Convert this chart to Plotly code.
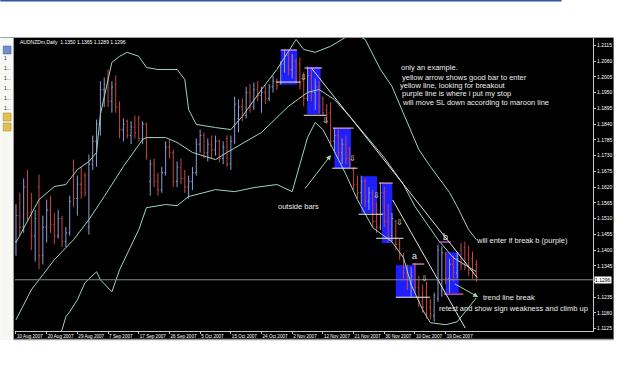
import plotly.graph_objects as go

W, H = 625, 391
L, R, T, B = 15, 21, 38, 60
PW, PH = W - L - R, H - T - B

def PX(x):
    return (x - L) / PW

def PY(y):
    return (H - B - y) / PH

# ---------------- data ----------------
date_idx = [0, 8, 16, 24, 32, 40, 48, 56, 64, 72, 80, 88, 96, 104, 112]
date_labels = ["10 Aug 2007", "20 Aug 2007", "29 Aug 2007", "7 Sep 2007", "17 Sep 2007",
               "26 Sep 2007", "5 Oct 2007", "15 Oct 2007", "24 Oct 2007", "2 Nov 2007",
               "12 Nov 2007", "21 Nov 2007", "30 Nov 2007", "10 Dec 2007", "19 Dec 2007"]
price_ticks = [1.2115, 1.2060, 1.2005, 1.1950, 1.1895, 1.1840, 1.1785, 1.1730, 1.1675, 1.1620,
               1.1565, 1.1510, 1.1455, 1.1400, 1.1345, 1.1290, 1.1235, 1.1180, 1.1125]
last_price = 1.1296

opens = [1.1430, 1.1520, 1.1480, 1.1620, 1.1530, 1.1450, 1.1620, 1.1380, 1.1480, 1.1540,
         1.1490, 1.1450, 1.1510, 1.1430, 1.1460, 1.1680, 1.1580, 1.1630, 1.1660, 1.1480,
         1.1700, 1.1780, 1.1840, 1.1960, 1.2000, 1.1920, 1.1980, 1.1900, 1.1820, 1.1850,
         1.1800, 1.1830, 1.1860, 1.1790, 1.1840, 1.1640, 1.1700, 1.1640, 1.1610, 1.1670,
         1.1760, 1.1740, 1.1640, 1.1690, 1.1650, 1.1620, 1.1640, 1.1670, 1.1770, 1.1800,
         1.1740, 1.1770, 1.1750, 1.1780, 1.1720, 1.1790, 1.1700, 1.1780, 1.1860, 1.1900,
         1.1870, 1.1950, 1.1900, 1.1960, 1.1940, 1.1950, 1.1930, 1.1970, 1.1990, 1.1980,
         1.2050, 1.2080, 1.2030, 1.2060, 1.2050, 1.1990, 1.1930, 1.2010, 1.1950, 1.1970,
         1.1930, 1.1890, 1.1880, 1.1780, 1.1800, 1.1740, 1.1770, 1.1720, 1.1680, 1.1630,
         1.1600, 1.1640, 1.1570, 1.1600, 1.1500, 1.1480, 1.1600, 1.1500, 1.1450, 1.1500,
         1.1420, 1.1380, 1.1320, 1.1280, 1.1340, 1.1270, 1.1220, 1.1250, 1.1200, 1.1170,
         1.1230, 1.1260, 1.1390, 1.1300, 1.1350, 1.1320, 1.1400, 1.1410, 1.1380, 1.1370,
         1.1350]
highs = [1.1560, 1.1600, 1.1650, 1.1680, 1.1600, 1.1540, 1.1664, 1.1520, 1.1576, 1.1590,
         1.1530, 1.1540, 1.1520, 1.1480, 1.1590, 1.1716, 1.1660, 1.1690, 1.1671, 1.1734,
         1.1800, 1.1856, 1.1990, 1.2003, 1.2031, 1.1990, 1.2010, 1.1920, 1.1860, 1.1856,
         1.1850, 1.1870, 1.1870, 1.1850, 1.1845, 1.1716, 1.1720, 1.1670, 1.1690, 1.1780,
         1.1786, 1.1750, 1.1710, 1.1720, 1.1680, 1.1660, 1.1690, 1.1790, 1.1821, 1.1810,
         1.1790, 1.1800, 1.1800, 1.1786, 1.1780, 1.1800, 1.1800, 1.1936, 1.1926, 1.1930,
         1.1970, 1.1980, 1.1985, 1.1990, 1.1971, 1.1975, 1.1980, 1.2010, 1.2000, 1.2060,
         1.2101, 1.2095, 1.2085, 1.2070, 1.2073, 1.2021, 1.2042, 1.2030, 1.2000, 1.1990,
         1.1936, 1.1910, 1.1916, 1.1828, 1.1820, 1.1790, 1.1800, 1.1760, 1.1690, 1.1660,
         1.1660, 1.1650, 1.1620, 1.1610, 1.1566, 1.1636, 1.1620, 1.1560, 1.1530, 1.1506,
         1.1440, 1.1390, 1.1349, 1.1340, 1.1355, 1.1310, 1.1280, 1.1290, 1.1230, 1.1251,
         1.1419, 1.1412, 1.1394, 1.1370, 1.1380, 1.1390, 1.1425, 1.1430, 1.1415, 1.1395,
         1.1365]
lows = [1.1380, 1.1450, 1.1460, 1.1500, 1.1400, 1.1360, 1.1333, 1.1350, 1.1426, 1.1460,
        1.1420, 1.1440, 1.1410, 1.1410, 1.1450, 1.1550, 1.1520, 1.1580, 1.1587, 1.1454,
        1.1680, 1.1691, 1.1800, 1.1900, 1.1900, 1.1880, 1.1880, 1.1790, 1.1780, 1.1790,
        1.1770, 1.1790, 1.1780, 1.1770, 1.1716, 1.1590, 1.1620, 1.1590, 1.1600, 1.1660,
        1.1720, 1.1620, 1.1620, 1.1630, 1.1600, 1.1580, 1.1610, 1.1660, 1.1740, 1.1720,
        1.1710, 1.1720, 1.1730, 1.1706, 1.1700, 1.1690, 1.1680, 1.1770, 1.1811, 1.1850,
        1.1860, 1.1880, 1.1890, 1.1920, 1.1880, 1.1910, 1.1920, 1.1950, 1.1960, 1.1979,
        1.2020, 1.2010, 1.2000, 1.1985, 1.1961, 1.1902, 1.1920, 1.1920, 1.1890, 1.1877,
        1.1870, 1.1840, 1.1762, 1.1740, 1.1720, 1.1700, 1.1700, 1.1688, 1.1611, 1.1580,
        1.1560, 1.1550, 1.1540, 1.1480, 1.1460, 1.1470, 1.1480, 1.1426, 1.1430, 1.1400,
        1.1366, 1.1300, 1.1260, 1.1237, 1.1250, 1.1200, 1.1180, 1.1160, 1.1157, 1.1150,
        1.1219, 1.1237, 1.1280, 1.1251, 1.1290, 1.1300, 1.1330, 1.1330, 1.1310, 1.1300,
        1.1289]
closes = [1.1520, 1.1480, 1.1620, 1.1530, 1.1450, 1.1510, 1.1380, 1.1480, 1.1540, 1.1490,
          1.1450, 1.1510, 1.1430, 1.1460, 1.1570, 1.1580, 1.1630, 1.1600, 1.1600, 1.1700,
          1.1780, 1.1840, 1.1960, 1.1980, 1.1920, 1.1970, 1.1900, 1.1820, 1.1840, 1.1800,
          1.1830, 1.1810, 1.1790, 1.1840, 1.1730, 1.1700, 1.1640, 1.1610, 1.1670, 1.1760,
          1.1740, 1.1640, 1.1690, 1.1650, 1.1620, 1.1640, 1.1670, 1.1770, 1.1800, 1.1740,
          1.1770, 1.1750, 1.1780, 1.1720, 1.1760, 1.1700, 1.1780, 1.1910, 1.1900, 1.1870,
          1.1950, 1.1900, 1.1960, 1.1940, 1.1950, 1.1930, 1.1970, 1.1990, 1.1975, 1.2050,
          1.2080, 1.2030, 1.2060, 1.2000, 1.1980, 1.1930, 1.2010, 1.1950, 1.1970, 1.1900,
          1.1880, 1.1850, 1.1780, 1.1800, 1.1740, 1.1770, 1.1720, 1.1700, 1.1630, 1.1600,
          1.1640, 1.1570, 1.1600, 1.1500, 1.1480, 1.1600, 1.1500, 1.1450, 1.1510, 1.1420,
          1.1380, 1.1320, 1.1280, 1.1310, 1.1270, 1.1220, 1.1200, 1.1180, 1.1170, 1.1240,
          1.1400, 1.1390, 1.1300, 1.1350, 1.1320, 1.1370, 1.1350, 1.1340, 1.1330, 1.1320,
          1.1296]
bar_idx = list(range(len(opens)))

upper_idx = [0, 6, 10, 13, 16, 19, 21, 22, 25, 27, 29, 32, 34, 37, 42, 44, 45, 47, 52, 56,
             59, 64, 68, 73, 75, 78, 82, 86, 88, 91, 95, 98, 105, 108, 113, 115, 118, 120]
upper_val = [1.1426, 1.1576, 1.1622, 1.1629, 1.1681, 1.1709, 1.1741, 1.1874, 1.2056, 1.2077,
             1.2091, 1.2077, 1.2038, 1.2031, 1.2031, 1.1996, 1.1891, 1.1839, 1.1828, 1.1821,
             1.1867, 1.1961, 1.2031, 1.2136, 1.2101, 1.2091, 1.2112, 1.2143, 1.2160, 1.2136,
             1.2031, 1.1972, 1.1751, 1.1692, 1.1601, 1.1552, 1.1471, 1.1436]
middle_idx = [0, 4, 6, 10, 15, 19, 23, 28, 33, 34, 39, 42, 46, 52, 55, 64, 71, 76, 79, 83,
              87, 92, 96, 101, 104, 110, 114, 120]
middle_val = [1.1156, 1.1261, 1.1296, 1.1366, 1.1436, 1.1506, 1.1587, 1.1692, 1.1786, 1.1793,
              1.1793, 1.1776, 1.1741, 1.1716, 1.1741, 1.1811, 1.1902, 1.1951, 1.1961, 1.1926,
              1.1867, 1.1786, 1.1723, 1.1629, 1.1552, 1.1436, 1.1373, 1.1324]
lower_idx = [8, 12, 13, 14, 16, 18, 21, 22, 25, 27, 32, 34, 39, 42, 45, 52, 57, 62, 68, 72,
             74, 76, 78, 80, 83, 86, 89, 93, 98, 101, 103, 106, 108, 112, 115, 118, 120]
lower_val = [1.1050, 1.1121, 1.1167, 1.1184, 1.1226, 1.1286, 1.1324, 1.1296, 1.1254, 1.1331,
             1.1471, 1.1548, 1.1559, 1.1555, 1.1587, 1.1611, 1.1604, 1.1618, 1.1629, 1.1604,
             1.1699, 1.1793, 1.1846, 1.1821, 1.1744, 1.1664, 1.1576, 1.1478, 1.1429, 1.1373,
             1.1279, 1.1191, 1.1146, 1.1139, 1.1149, 1.1198, 1.1233]

# drawn objects (bar index / price)
box_x0 = [69.0, 75.9, 83.0, 90.0, 95.4, 99.0, 112.0]
box_x1 = [73.3, 79.4, 87.3, 94.1, 98.1, 104.2, 115.4]
box_top = [1.2100, 1.2040, 1.1826, 1.1658, 1.1634, 1.1347, 1.1392]
box_bot = [1.1978, 1.1875, 1.1686, 1.1529, 1.1424, 1.1235, 1.1249]

white_x0 = [67.8, 75.0, 82.4, 89.3, 93.9, 99.0]
white_x1 = [74.2, 80.9, 89.0, 95.7, 101.0, 107.9]
white_p = [1.1987, 1.1871, 1.1686, 1.1525, 1.1441, 1.1235]

pink_x0 = [69.0, 75.2, 82.6, 94.6, 103.3]
pink_x1 = [73.2, 79.8, 88.0, 98.2, 106.4]
pink_p = [1.2099, 1.2036, 1.1826, 1.1634, 1.1351]

purple_x0 = [110.2, 111.5]
purple_x1 = [113.3, 116.6]
purple_p = [1.1428, 1.1246]

trend_x0 = [77.0, 98.2]
trend_x1 = [120.2, 117.1]
trend_p0 = [1.2036, 1.1575]
trend_p1 = [1.1304, 1.1127]

sig_idx = [74.9, 80.8, 87.7, 93.9, 100.0, 106.6]
sig_val = [1.2004, 1.1854, 1.1721, 1.1591, 1.1497, 1.1301]

notes = ["only an example.",
         "yellow arrow shows good bar to enter",
         "yellow line, looking for breakout",
         "purple line is where i put my stop",
         "will move SL down according to maroon line"]

# ---------------- styles ----------------
UP = "#8d9ed6"
DN = "#c8463e"
BAND = "#9ed6b8"
TXT = "#ececec"
FONT = "Liberation Sans, Arial, sans-serif"

fig = go.Figure()

fig.add_trace(go.Ohlc(
    x=bar_idx, open=opens, high=highs, low=lows, close=closes,
    increasing=dict(line=dict(color=UP, width=1)),
    decreasing=dict(line=dict(color=DN, width=1)),
    tickwidth=0.3, hoverinfo="skip", showlegend=False))

for xi, yv in [(upper_idx, upper_val), (middle_idx, middle_val), (lower_idx, lower_val)]:
    fig.add_trace(go.Scatter(x=xi, y=yv, mode="lines", line=dict(color=BAND, width=1),
                             hoverinfo="skip", showlegend=False))

shapes = []
# window chrome
shapes.append(dict(type="rect", xref="paper", yref="paper", x0=PX(14), x1=PX(625),
                   y0=PY(339), y1=PY(38), fillcolor="black", line_width=0, layer="below"))
shapes.append(dict(type="rect", xref="paper", yref="paper", x0=PX(0), x1=PX(572),
                   y0=PY(1.5), y1=PY(0), fillcolor="#2a5a9a", line_width=0, layer="below"))
shapes.append(dict(type="line", xref="paper", yref="paper", x0=PX(0), x1=PX(625),
                   y0=PY(37.5), y1=PY(37.5), line=dict(color="#a0a0a0", width=1)))
shapes.append(dict(type="line", xref="paper", yref="paper", x0=PX(14), x1=PX(625),
                   y0=PY(339.5), y1=PY(339.5), line=dict(color="#9a9a9a", width=1.5)))
shapes.append(dict(type="rect", xref="paper", yref="paper", x0=PX(0), x1=PX(13),
                   y0=PY(340), y1=PY(38), fillcolor="#f7f7f4", line_width=0, layer="below"))
shapes.append(dict(type="line", xref="paper", yref="paper", x0=PX(13.5), x1=PX(13.5),
                   y0=PY(340), y1=PY(38), line=dict(color="#9a9a9a", width=1)))
shapes.append(dict(type="rect", xref="paper", yref="paper", x0=PX(3), x1=PX(11),
                   y0=PY(54), y1=PY(46), fillcolor="#6f8fc8", line=dict(color="#3a5a9a", width=0.5)))
for yy in (113, 123):
    shapes.append(dict(type="rect", xref="paper", yref="paper", x0=PX(3), x1=PX(11),
                       y0=PY(yy + 8), y1=PY(yy), fillcolor="#e0c050",
                       line=dict(color="#a08020", width=0.5)))

# boxes
for a, b, t, bt in zip(box_x0, box_x1, box_top, box_bot):
    shapes.append(dict(type="rect", xref="x", yref="y", x0=a, x1=b, y0=bt, y1=t,
                       fillcolor="#1e1eff", line_width=0, layer="below"))
# horizontal level lines
for a, b, p in zip(white_x0, white_x1, white_p):
    shapes.append(dict(type="line", xref="x", yref="y", x0=a, x1=b, y0=p, y1=p,
                       line=dict(color="#f0f0f0", width=1)))
for a, b, p in zip(pink_x0, pink_x1, pink_p):
    shapes.append(dict(type="line", xref="x", yref="y", x0=a, x1=b, y0=p, y1=p,
                       line=dict(color="#e8a0d8", width=1.2)))
for a, b, p in zip(purple_x0, purple_x1, purple_p):
    shapes.append(dict(type="line", xref="x", yref="y", x0=a, x1=b, y0=p, y1=p,
                       line=dict(color="#c050c8", width=1.5)))
# trend lines
for a, b, p0, p1 in zip(trend_x0, trend_x1, trend_p0, trend_p1):
    shapes.append(dict(type="line", xref="x", yref="y", x0=a, x1=b, y0=p0, y1=p1,
                       line=dict(color="#e4e4e4", width=1)))
# current price line
shapes.append(dict(type="line", xref="paper", yref="y", x0=0, x1=1, y0=last_price, y1=last_price,
                   line=dict(color="#8a8a8a", width=1)))

ann = []
ann.append(dict(xref="paper", yref="paper", x=PX(18), y=PY(42), text="AUDNZDm,Daily  1.1350 1.1365 1.1289 1.1296",
                showarrow=False, xanchor="left", yanchor="middle", font=dict(size=5, color="white", family=FONT)))
for k, s in enumerate(["", "1", "1...", "1...", "1...", "1...", "1..."]):
    if s:
        ann.append(dict(xref="paper", yref="paper", x=PX(2), y=PY(48 + 10 * k), text=s, showarrow=False,
                        xanchor="left", yanchor="middle", font=dict(size=5, color="#333333", family=FONT)))
note_x = [406, 407, 405, 407, 407]
note_y = [68, 77, 85.5, 94, 103]
for s, xx, yy in zip(notes, note_x, note_y):
    ann.append(dict(xref="paper", yref="paper", x=PX(xx), y=PY(yy), text=s, showarrow=False,
                    xanchor="left", yanchor="middle", font=dict(size=7.5, color=TXT, family=FONT)))
for s, xx, yy in [("outside bars", 281, 206), ("will enter if break b (purple)", 483, 240),
                  ("trend line break", 490, 297), ("retest and show sign weakness and climb up", 445, 308)]:
    ann.append(dict(xref="paper", yref="paper", x=PX(xx), y=PY(yy), text=s, showarrow=False,
                    xanchor="left", yanchor="middle", font=dict(size=7.5, color=TXT, family=FONT)))
for s, xi, p in [("a", 103.8, 1.1378), ("b", 112.0, 1.1444)]:
    ann.append(dict(xref="x", yref="y", x=xi, y=p, text=s, showarrow=False,
                    xanchor="center", yanchor="middle", font=dict(size=9, color=TXT, family=FONT)))
for xi, p in zip(sig_idx, sig_val):
    ann.append(dict(xref="x", yref="y", x=xi, y=p, text="⇩", showarrow=False,
                    xanchor="center", yanchor="middle", font=dict(size=8, color="#f6efc0", family="DejaVu Sans")))
# green hand-drawn arrows
ann.append(dict(xref="paper", yref="paper", x=PX(337), y=PY(155), ax=-27, ay=35, text="",
                showarrow=True, arrowhead=2, arrowsize=1, arrowwidth=1, arrowcolor=BAND))
ann.append(dict(xref="paper", yref="paper", x=PX(487), y=PY(297), ax=-25, ay=-14, text="",
                showarrow=True, arrowhead=2, arrowsize=1, arrowwidth=1, arrowcolor=BAND))
# current price label (covers the 1.1290 tick, as in the terminal)
ann.append(dict(xref="paper", yref="y", x=PX(605), y=last_price, text="1.1296", showarrow=False,
                xanchor="left", yanchor="middle", bgcolor="white", borderpad=0,
                font=dict(size=5, color="black", family=FONT)))

tick_text = ["" if abs(v - 1.1290) < 1e-9 else "%.4f" % v for v in price_ticks]

fig.update_layout(
    width=W, height=H, margin=dict(l=L, r=R, t=T, b=B, pad=0),
    paper_bgcolor="white", plot_bgcolor="black",
    shapes=shapes, annotations=ann, showlegend=False,
    xaxis=dict(range=[-0.256, 150.4], showgrid=False, zeroline=False, showline=True,
               linecolor="#c8c8c8", linewidth=1, ticks="outside", ticklen=2, tickcolor="#c8c8c8",
               tickvals=date_idx, ticktext=date_labels, tickangle=0,
               ticklabelposition="outside right",
               tickfont=dict(size=4.6, color="white", family=FONT),
               rangeslider=dict(visible=False), fixedrange=True),
    yaxis=dict(range=[1.1117, 1.2141], side="right", showgrid=False, zeroline=False,
               showline=True, linecolor="#c8c8c8", linewidth=1, ticks="outside", ticklen=2,
               tickcolor="#c8c8c8", tickvals=price_ticks, ticktext=tick_text,
               tickfont=dict(size=5, color="white", family=FONT), fixedrange=True),
)

fig.write_html("out.html")
